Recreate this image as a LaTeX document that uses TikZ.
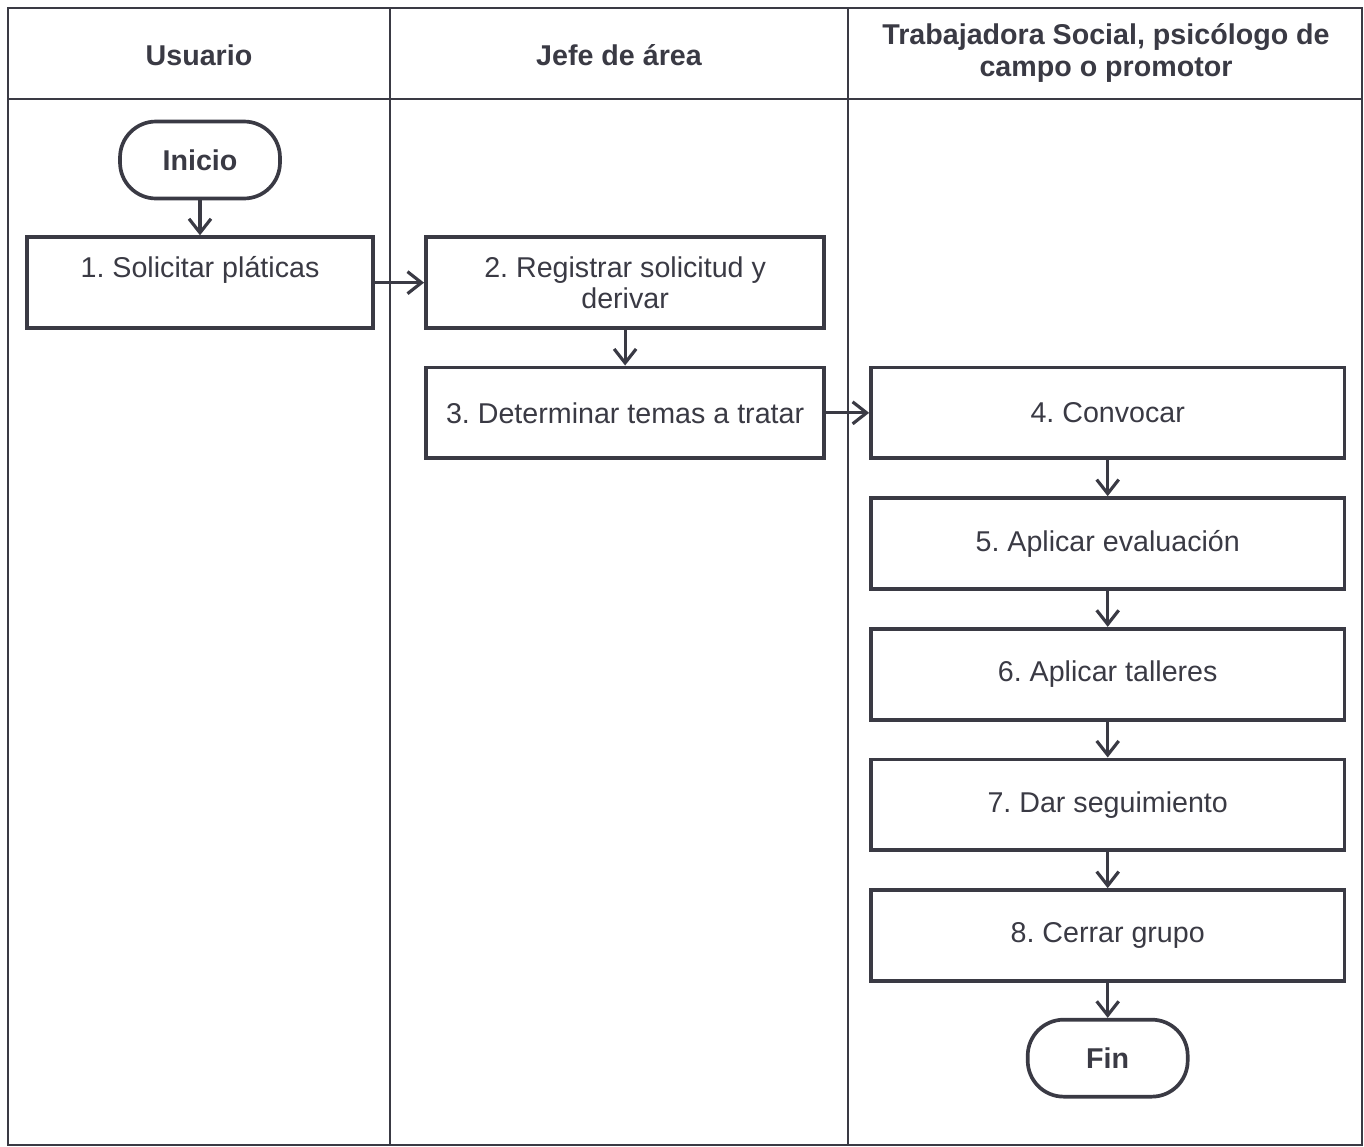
\documentclass[tikz,border=0pt]{standalone}
\usepackage{fontspec}
\setmainfont{Liberation Sans}
\usetikzlibrary{positioning,arrows.meta}
\definecolor{inkC}{RGB}{58,58,68}
\frenchspacing

\begin{document}
\begin{tikzpicture}
  [x=0.02cm,y=-0.02cm,
   procN/.style={draw=inkC,line width=2.1pt,minimum height=1.82cm,align=center,
                 text=inkC,font=\fontsize{16.3}{18}\selectfont},
   termN/.style={draw=inkC,line width=2.1pt,rounded corners=0.72cm,minimum width=3.2cm,
                 minimum height=1.54cm,text=inkC,font=\bfseries\fontsize{16.3}{18}\selectfont},
   headN/.style={align=center,text=inkC,font=\bfseries\fontsize{16.3}{18.2}\selectfont},
   flowE/.style={draw=inkC,line width=1.8pt,-{Straight Barb[length=0.28cm,width=0.44cm]}},
   laneL/.style={draw=inkC,line width=1.2pt},
   node distance=0.72cm]

  \useasboundingbox (0,0) rectangle (1364,1146);

  % lanes
  \draw[laneL] (8,8) rectangle (1362,1145);
  \draw[laneL] (8,99) -- (1362,99);
  \draw[laneL] (390,8) -- (390,1145);
  \draw[laneL] (848,8) -- (848,1145);

  \node[headN] (hUsu) at (199,55)  {Usuario};
  \node[headN] (hJef) at (619,55)  {Jefe de área};
  \node[headN] (hTra) at (1106,53) {Trabajadora Social, psicólogo de\\campo o promotor};

  \node[termN] (ini) at (200,160) {Inicio};
  \node[procN,minimum width=6.93cm] (sol) [below=0.70cm of ini] {1. Solicitar pláticas\\\mbox{}};
  \node[procN,minimum width=7.97cm] (reg) [right=0.98cm of sol] {2. Registrar solicitud y\\derivar};
  \node[procN,minimum width=7.97cm] (det) [below=0.71cm of reg] {3. Determinar temas a tratar};

  \node[procN,minimum width=9.47cm] (con) [right=0.86cm of det] {4. Convocar};
  \node[procN,minimum width=9.47cm] (eva) [below=of con] {5. Aplicar evaluación};
  \node[procN,minimum width=9.47cm] (tal) [below=of eva] {6. Aplicar talleres};
  \node[procN,minimum width=9.47cm] (seg) [below=of tal] {7. Dar seguimiento};
  \node[procN,minimum width=9.47cm] (cer) [below=of seg] {8. Cerrar grupo};
  \node[termN] (fin) [below=0.70cm of cer] {Fin};

  \draw[flowE] (ini) -- (sol);
  \draw[flowE] (sol.east) -- (sol.east -| reg.west);
  \draw[flowE] (reg) -- (det);
  \draw[flowE] (det) -- (con);
  \draw[flowE] (con) -- (eva);
  \draw[flowE] (eva) -- (tal);
  \draw[flowE] (tal) -- (seg);
  \draw[flowE] (seg) -- (cer);
  \draw[flowE] (cer) -- (fin);

\end{tikzpicture}
\end{document}
